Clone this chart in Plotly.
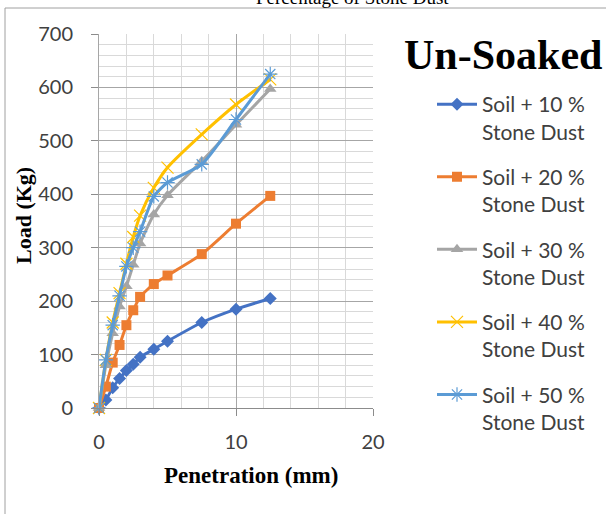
import plotly.graph_objects as go

penetration = [0, 0.5, 1.0, 1.5, 2.0, 2.5, 3.0, 4.0, 5.0, 7.5, 10.0, 12.5]
load_10 = [0, 15, 38, 55, 70, 82, 95, 110, 125, 160, 185, 205]
load_20 = [0, 40, 85, 118, 155, 183, 208, 232, 248, 288, 345, 397]
load_30 = [0, 80, 140, 190, 228, 268, 308, 362, 398, 462, 530, 597]
load_40 = [0, 90, 160, 215, 270, 320, 360, 412, 450, 512, 568, 615]
load_50 = [0, 90, 155, 210, 265, 300, 330, 396, 422, 456, 540, 625]

series_names = ["Soil + 10 %<br>Stone Dust", "Soil + 20 %<br>Stone Dust",
                "Soil + 30 %<br>Stone Dust", "Soil + 40 %<br>Stone Dust",
                "Soil + 50 %<br>Stone Dust"]
series_values = [load_10, load_20, load_30, load_40, load_50]
colors = ["#4472C4", "#ED7D31", "#A5A5A5", "#FFC000", "#5B9BD5"]
symbols = ["diamond", "square", "triangle-up", "x-thin-open", "asterisk-open"]
sizes = [10, 10, 11, 12, 12]

fig = go.Figure()
for i, (nm, vals) in enumerate(zip(series_names, series_values)):
    marker = dict(symbol=symbols[i], size=sizes[i], color=colors[i])
    if "open" in symbols[i]:
        marker["line"] = dict(color=colors[i], width=1.2)
    fig.add_trace(go.Scatter(
        x=penetration, y=vals, name=nm, mode="lines+markers",
        line=dict(color=colors[i], width=3, shape="spline", smoothing=0.6),
        marker=marker, legendgroup=f"g{i}", cliponaxis=False,
    ))

W, H = 606, 514
L, R, T, B = 99, 373, 34, 408
pw, ph = R - L, B - T

def px(x):
    return (x - L) / pw

def py(y):
    return (B - y) / ph

tick_font = dict(family="Lato", size=20, color="#404040")

fig.update_layout(
    width=W, height=H,
    margin=dict(l=L, r=W - R, t=T, b=H - B, autoexpand=False),
    paper_bgcolor="white", plot_bgcolor="white",
    showlegend=True,
    legend=dict(x=px(432), y=py(84), xanchor="left", yanchor="top",
                valign="top", font=dict(family="Lato", size=21, color="#404040"),
                tracegroupgap=15, bgcolor="rgba(0,0,0,0)", itemwidth=40),
    xaxis=dict(range=[0, 20], dtick=10, tick0=0,
               showgrid=True, gridcolor="#A6A6A6", gridwidth=1,
               minor=dict(dtick=2, showgrid=True, gridcolor="#D9D9D9", ticks=""),
               showline=True, linecolor="#8C8C8C", linewidth=1,
               ticks="outside", ticklen=7, tickcolor="#8C8C8C",
               tickfont=tick_font, ticklabelstandoff=9, zeroline=False,
               automargin=False),
    yaxis=dict(range=[0, 700], dtick=100, tick0=0,
               showgrid=True, gridcolor="#A6A6A6", gridwidth=1,
               minor=dict(dtick=20, showgrid=True, gridcolor="#D9D9D9", ticks=""),
               showline=True, linecolor="#A6A6A6", linewidth=1,
               ticks="outside", ticklen=7, tickcolor="#8C8C8C",
               tickfont=tick_font, ticklabelstandoff=14, zeroline=False,
               automargin=False),
    annotations=[
        dict(text="Percentage of Stone Dust", xref="paper", yref="paper",
             x=px(352), y=py(-3), xanchor="center", yanchor="middle",
             showarrow=False, font=dict(family="Liberation Serif", size=19, color="black")),
        dict(text="<b>Un-Soaked</b>", xref="paper", yref="paper",
             x=px(503), y=py(55), xanchor="center", yanchor="middle",
             showarrow=False, font=dict(family="Liberation Serif", size=42, color="black")),
        dict(text="<b>Load (Kg)</b>", xref="paper", yref="paper",
             x=px(24), y=py(216), xanchor="center", yanchor="middle", textangle=-90,
             showarrow=False, font=dict(family="Liberation Serif", size=22, color="black")),
        dict(text="<b>Penetration (mm)</b>", xref="paper", yref="paper",
             x=px(251), y=py(475), xanchor="center", yanchor="middle",
             showarrow=False, font=dict(family="Liberation Serif", size=23, color="black")),
    ],
    shapes=[
        dict(type="line", xref="paper", yref="paper", x0=px(5), x1=px(606),
             y0=py(8), y1=py(8), line=dict(color="#A0A0A0", width=1)),
        dict(type="line", xref="paper", yref="paper", x0=px(5), x1=px(5),
             y0=py(8), y1=py(514), line=dict(color="#A0A0A0", width=1)),
    ],
)

fig.write_html("out.html", config={"displayModeBar": False},
               post_script="document.body.style.margin='0';")
